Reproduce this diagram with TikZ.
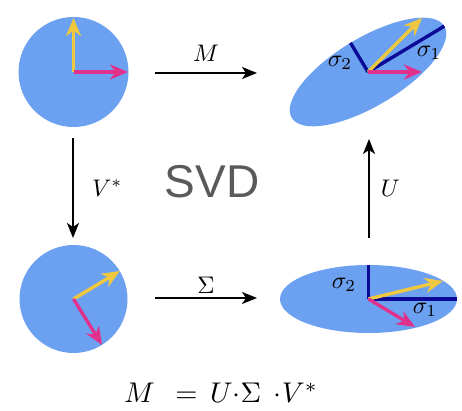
\documentclass[tikz,border=0pt]{standalone}
\usepackage{fontspec}
\newfontfamily\headfont{Liberation Sans}
\usetikzlibrary{arrows.meta}

\definecolor{disk}{RGB}{108,160,240}
\definecolor{yel}{RGB}{240,200,64}
\definecolor{mag}{RGB}{224,50,140}
\definecolor{navy}{RGB}{10,10,150}
\definecolor{headgray}{RGB}{90,90,90}

\tikzset{
  vec/.style={line width=3.4pt,-{Stealth[length=18pt,width=15pt,inset=5.5pt]}},
  map/.style={line width=1.9pt,-{Stealth[length=15pt,width=12pt,inset=4pt]}},
  axis/.style={line width=3.4pt,navy},
  lbl/.style={scale=2.4,inner sep=2pt},
}

\begin{document}
\begin{tikzpicture}[x=1pt,y=1pt]
  \useasboundingbox (0,0) rectangle (462,411);
  \coordinate (A) at (73.5,339);
  \coordinate (B) at (73.5,112);
  \coordinate (C) at (368.5,112);
  \coordinate (D) at (368,339);

  \fill[disk] (A) circle (55);
  \fill[disk] (B) circle (54);
  \fill[disk] (C) ellipse (88.5 and 34);
  \fill[disk,rotate around={31:(D)}] (D) ellipse (89 and 34);

  \draw[axis] (C) -- ++(88.5,0) (C) -- ++(0,34);
  \draw[axis] (D) -- ++(31:89) (D) -- ++(121:34);

  \draw[vec,yel] (A) -- ++(0,54);
  \draw[vec,mag] (A) -- ++(54.5,0);
  \draw[vec,yel] (B) -- ++(46.5,28);
  \draw[vec,mag] (B) -- ++(28.5,-46);
  \draw[vec,yel] (C) -- ++(74.5,18);
  \draw[vec,mag] (C) -- ++(46.5,-28);
  \draw[vec,yel] (D) -- ++(54,54);
  \draw[vec,mag] (D) -- ++(54,0);

  \node[lbl] (s1D) at (429,358) {$\sigma_1$};
  \node[lbl] (s2D) at (340,348) {$\sigma_2$};
  \node[lbl] (s1C) at (425,101) {$\sigma_1$};
  \node[lbl] (s2C) at (344,126) {$\sigma_2$};

  % maps between the four pictures
  \coordinate (m1) at (155,338);  \coordinate (m2) at (257,338);
  \coordinate (v1) at (73,273);   \coordinate (v2) at (73,173);
  \coordinate (s1) at (155,113);  \coordinate (s2) at (257,113);
  \coordinate (u1) at (369,173);  \coordinate (u2) at (369,272);
  \draw[map] (m1) -- node[lbl,above=2pt] (labM) {$M$} (m2);
  \draw[map] (v1) -- node[lbl,right=5pt] (labV) {$V^*$} (v2);
  \draw[map] (s1) -- node[lbl,above=-1pt] (labS) {$\Sigma$} (s2);
  \draw[map] (u1) -- node[lbl,right=2pt] (labU) {$U$} (u2);

  \node[font=\headfont\fontsize{46}{50}\selectfont,text=headgray] (svd) at (212,229.5) {SVD};
  \node[scale=2.85,anchor=base,inner sep=0pt] (eq) at (221,8)
    {$M\mkern8mu=\mkern3mu U{\cdot}\Sigma\mkern8mu{\cdot}V^{*}$};
\end{tikzpicture}
\end{document}
